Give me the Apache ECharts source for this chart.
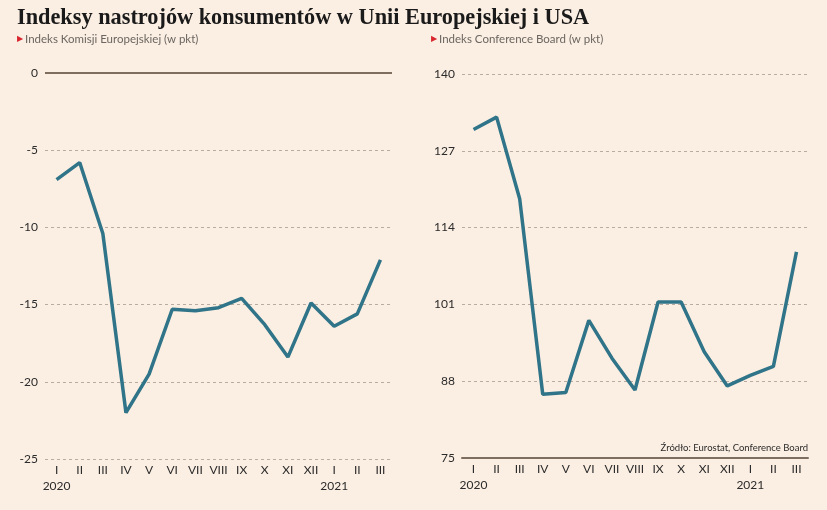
<!DOCTYPE html>
<html>
<head>
<meta charset="utf-8">
<script src="https://cdn.jsdelivr.net/npm/echarts@6/dist/echarts.min.js"></script>
<style>
html,body{margin:0;padding:0;background:#fbeee2;}
#c{width:827px;height:510px;}
</style>
</head>
<body>
<div id="c"></div>
<script>
const months = ['I','II','III','IV','V','VI','VII','VIII','IX','X','XI','XII','I','II','III'];
const years = ['2020','','','','','','','','','','','','2021','',''];
const euValues = [-6.9, -5.8, -10.4, -22.0, -19.5, -15.3, -15.4, -15.2, -14.6, -16.3, -18.4, -14.9, -16.4, -15.6, -12.1];
const usValues = [130.6, 132.7, 118.9, 85.8, 86.1, 98.3, 91.9, 86.5, 101.4, 101.4, 93.0, 87.2, 89.0, 90.5, 109.9];
const euTicks = [-25, -20, -15, -10, -5, 0];
const usTicks = [75, 88, 101, 114, 127, 140];

const LINE = '#2f7488';
const GRID = '#b8aca0';
const AXIS = '#7d6e60';
const TXT = '#2b2b2b';
const FONT = 'Lato, "Noto Sans", sans-serif';

const chart = echarts.init(document.getElementById('c'), null, {renderer: 'canvas'});

function xAxisCfg(gridIndex) {
  return {
    type: 'category', gridIndex: gridIndex, data: months, boundaryGap: true,
    axisLine: {show: gridIndex === 1, onZero: false, lineStyle: {color: AXIS, width: 2}},
    axisTick: {show: false},
    axisLabel: {
      color: TXT, fontSize: 12, fontFamily: FONT,
      margin: 3, lineHeight: 16, interval: 0,
      formatter: function (v, i) { return years[i] ? v + '\n' + years[i] : v; }
    }
  };
}
function yAxisCfg(gridIndex, ticks) {
  return {
    type: 'value', gridIndex: gridIndex,
    min: ticks[0], max: ticks[ticks.length - 1],
    axisLine: {show: false},
    axisTick: {show: false, customValues: ticks},
    axisLabel: {
      customValues: ticks, color: TXT, fontSize: 12,
      fontFamily: FONT, margin: 7,
      verticalAlign: 'middle', padding: [0, 0, 8, 0]
    },
    splitLine: {show: true, lineStyle: {color: GRID, type: [3, 3], width: 1}}
  };
}
const subRich = {
  t: {color: '#d8262e', fontSize: 8, fontWeight: 'normal', padding: [0, 2, 0, 0]},
  s: {color: '#6b6660', fontSize: 11.5, fontWeight: 'normal', fontFamily: FONT}
};

chart.setOption({
  backgroundColor: '#fbeee2',
  animation: false,
  title: [
    {
      text: 'Indeksy nastrojów konsumentów w Unii Europejskiej i USA',
      left: 17, top: 7, padding: 0,
      textStyle: {fontFamily: '"Liberation Serif", "DejaVu Serif", serif', fontWeight: 'bold', fontSize: 22.3, color: '#1a1a1a'}
    },
    {
      text: '{t|▶}{s|Indeks Komisji Europejskiej (w pkt)}',
      left: 17, top: 33, padding: 0,
      textStyle: {fontWeight: 'normal', rich: subRich}
    },
    {
      text: '{t|▶}{s|Indeks Conference Board (w pkt)}',
      left: 431, top: 33, padding: 0,
      textStyle: {fontWeight: 'normal', rich: subRich}
    },
    {
      text: 'Źródło: Eurostat, Conference Board',
      right: 19, top: 443, padding: 0,
      textStyle: {color: TXT, fontSize: 9.5, fontWeight: 'normal', fontFamily: FONT}
    }
  ],
  grid: [
    {left: 45, right: 435, top: 73, bottom: 51},
    {left: 462, right: 19, top: 74, bottom: 52}
  ],
  xAxis: [xAxisCfg(0), xAxisCfg(1)],
  yAxis: [yAxisCfg(0, euTicks), yAxisCfg(1, usTicks)],
  series: [
    {
      type: 'line', xAxisIndex: 0, yAxisIndex: 0, data: euValues,
      symbol: 'none', lineStyle: {color: LINE, width: 3.5}, z: 3,
      markLine: {
        silent: true, symbol: 'none', label: {show: false},
        lineStyle: {color: AXIS, type: 'solid', width: 2},
        data: [{yAxis: 0}]
      }
    },
    {
      type: 'line', xAxisIndex: 1, yAxisIndex: 1, data: usValues,
      symbol: 'none', lineStyle: {color: LINE, width: 3.5}, z: 3
    }
  ]
});
</script>
</body>
</html>
